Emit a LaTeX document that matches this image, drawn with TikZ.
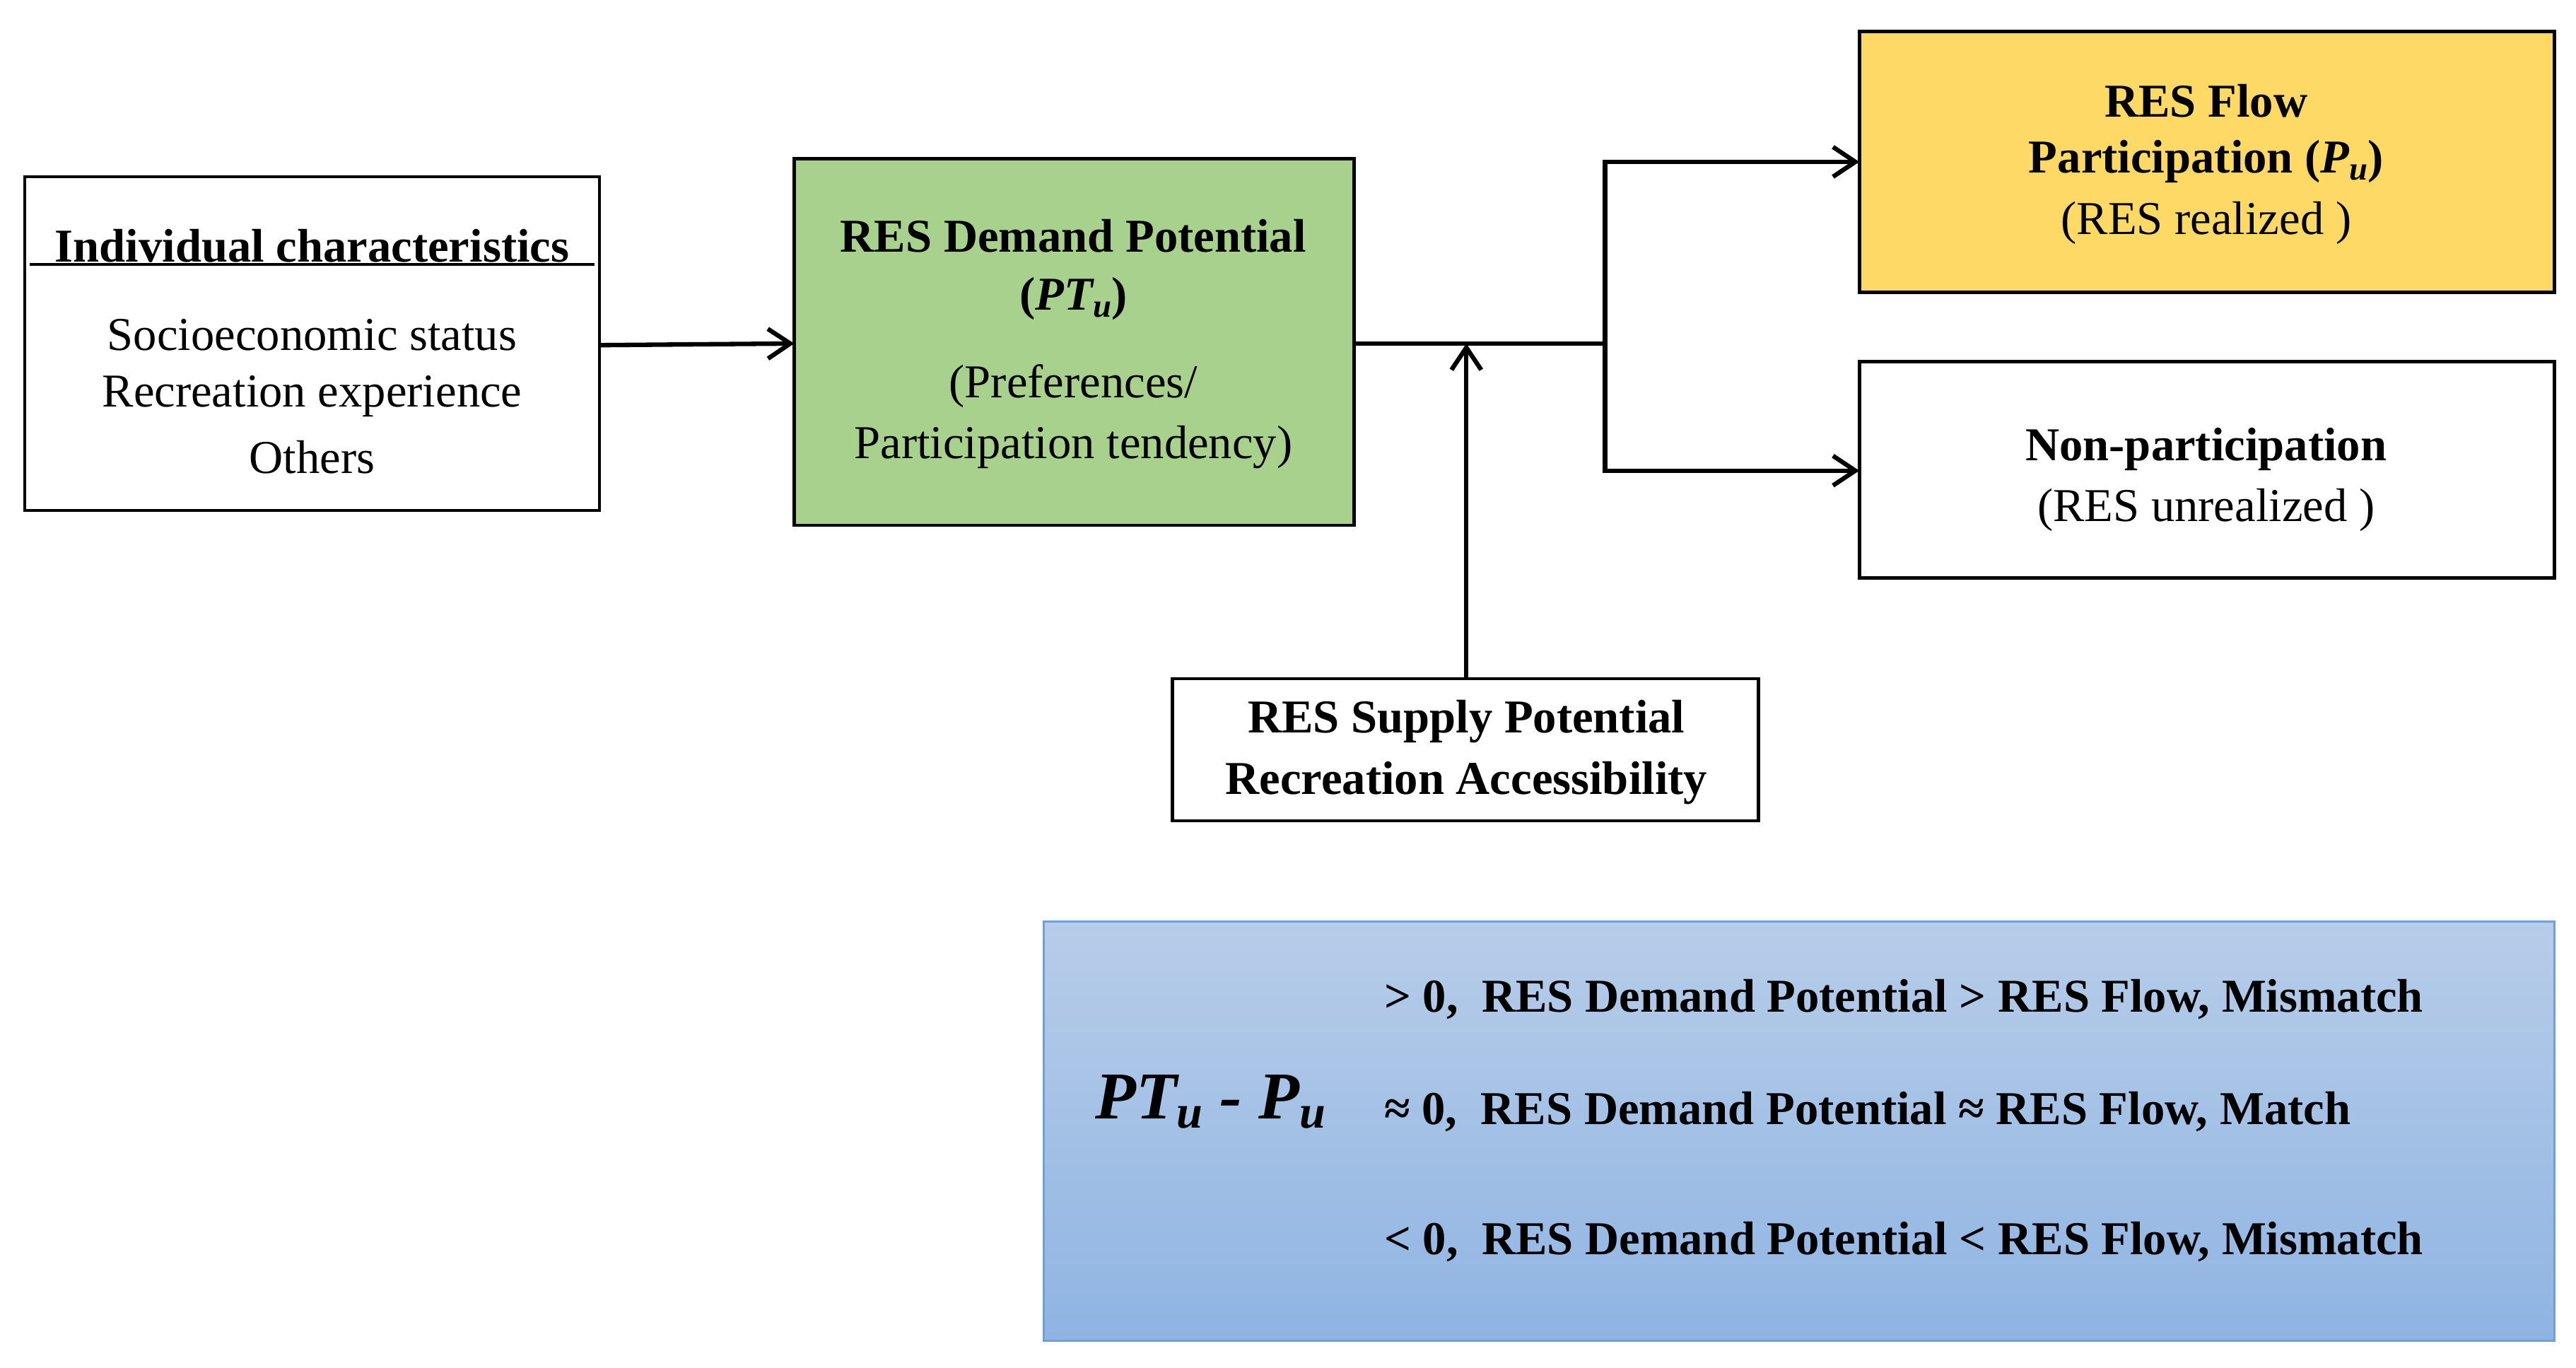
\documentclass[tikz,border=0pt]{standalone}
\usepackage{fontspec}
\setmainfont{Liberation Serif}
\usetikzlibrary{arrows.meta}
\definecolor{dgreen}{RGB}{169,209,142}
\definecolor{fyellow}{RGB}{255,217,102}
\definecolor{btop}{RGB}{183,205,233}
\definecolor{bbot}{RGB}{143,180,226}
\definecolor{bline}{RGB}{110,160,220}
\newcommand{\sbi}[1]{\raisebox{-0.3ex}{\scalebox{0.7}{#1}}}
\begin{document}
\begin{tikzpicture}[x=0.0234cm,y=-0.0234cm,
  box/.style={draw,line width=1.3pt,inner sep=0},
  arr/.style={line width=1.8pt,-{Straight Barb[length=9pt,width=12pt,line width=1.8pt]}},
  txt/.style={font=\fontsize{19}{23}\selectfont,inner sep=0},
  btxt/.style={font=\fontsize{19}{23}\selectfont\bfseries,inner sep=0}]
\useasboundingbox (0,0) rectangle (1560,828);
% Individual
\draw[box] (15,107) rectangle (363,309);
\node[btxt] (ic) at (189,149) {Individual characteristics};
\draw[line width=1pt] (18,160) -- (360,160);
\node[txt] (s1) at (189,203) {Socioeconomic status};
\node[txt] (s2) at (189,240) {Recreation experience};
\node[txt] (s3) at (189,277) {Others};
\coordinate (icr) at (363,209);
% Demand
\draw[box,fill=dgreen] (481,96) rectangle (820,318);
\coordinate (dl) at (481,208);
\coordinate (dr) at (820,208);
\node[btxt] (d1) at (650,143) {RES Demand Potential};
\node[btxt] (d2) at (650,181) {(\textit{PT\sbi{u}})};
\node[txt] (d3) at (650,234) {(Preferences/};
\node[txt] (d4) at (650,271) {Participation tendency)};
% Flow
\draw[box,fill=fyellow] (1126,19) rectangle (1547,177);
\node[btxt] (f1) at (1336,61) {RES Flow};
\node[btxt] (f2) at (1336,98) {Participation (\textit{P\sbi{u}})};
\node[txt] (f3) at (1336,135) {(RES realized )};
\coordinate (fl) at (1126,98);
% Non
\draw[box] (1126,219) rectangle (1547,350);
\node[btxt] (n1) at (1336,272) {Non-participation};
\node[txt] (n2) at (1336,309) {(RES unrealized )};
\coordinate (nl) at (1126,285);
% Supply
\draw[box] (710,411) rectangle (1065,497);
\node[btxt] (p1) at (888,437) {RES Supply Potential};
\node[btxt] (p2) at (888,474) {Recreation Accessibility};
\coordinate (pt) at (888,411);
\coordinate (pm) at (888,208);
\coordinate (br) at (972,208);
% arrows
\draw[arr] (icr) -- (dl);
\draw[line width=1.8pt] (dr) -- (br);
\draw[arr] (br) |- (fl);
\draw[arr] (br) |- (nl);
\draw[arr] (pt) -- (pm);
% bottom
\shade[top color=btop,bottom color=bbot] (632,558) rectangle (1547,812);
\draw[bline,line width=0.8pt] (632,558) rectangle (1547,812);
\node[font=\fontsize{27}{30}\selectfont\bfseries\itshape,inner sep=0] (eq) at (733,667) {PT\sbi{u} - P\sbi{u}};
\node[btxt,anchor=west] (l1) at (838,605) {> 0,\ \ RES Demand Potential > RES Flow, Mismatch};
\node[btxt,anchor=west] (l2) at (838,673) {≈ 0,\ \ RES Demand Potential ≈ RES Flow, Match};
\node[btxt,anchor=west] (l3) at (838,752) {< 0,\ \ RES Demand Potential < RES Flow, Mismatch};
\end{tikzpicture}
\end{document}
